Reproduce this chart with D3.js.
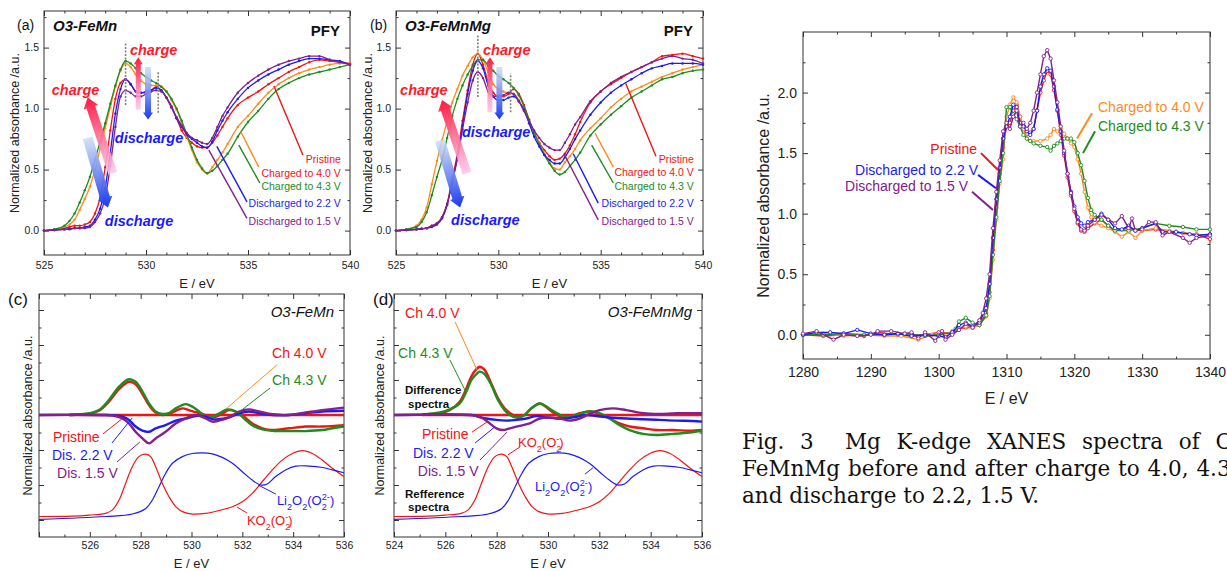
<!DOCTYPE html>
<html>
<head>
<meta charset="utf-8">
<title>O K-edge and Mg K-edge XANES</title>
<script src="https://cdn.jsdelivr.net/npm/d3@7"></script>
<style>
  html, body { margin: 0; padding: 0; background: #fff; overflow: hidden; }
  #fig { position: relative; width: 1227px; height: 571px; overflow: hidden; }
  #fig svg { position: absolute; left: 0; top: 0; }
  .caption { position: absolute; left: 742px; top: 428px; width: 512px;
             font-family: "DejaVu Serif", serif; font-size: 21.5px; line-height: 27px; color: #111; }
  .caption .j { text-align: justify; text-align-last: justify; }
</style>
</head>
<body>
<div id="fig">
  <div class="caption">
    <div class="j">Fig. 3&nbsp; Mg K-edge XANES spectra of O3-</div>
    <div class="j">FeMnMg before and after charge to 4.0, 4.3 V</div>
    <div>and discharge to 2.2, 1.5 V.</div>
  </div>
</div>
<script>
// O K-edge PFY spectra (a,b), difference / reference spectra (c,d)
// and Mg K-edge XANES (right).

const FONT = "Arial, 'Liberation Sans', sans-serif";
const RED = "#f01414", ORANGE = "#ff8a1c", GREEN = "#1e8c1e", BLUE = "#1c1cf0", PURPLE = "#82208e";

// ---------- DATA: (a) / (b) PFY, shared energy grid (eV) ----------
const eAB = [525, 525.5, 526, 526.25, 526.5, 526.75, 527, 527.25, 527.5, 527.75,
  528, 528.25, 528.5, 528.75, 529, 529.25, 529.5, 529.75, 530, 530.25,
  530.5, 530.75, 531, 531.25, 531.5, 531.75, 532, 532.25, 532.5, 532.75,
  533, 533.25, 533.5, 533.75, 534, 534.5, 535, 535.5, 536, 536.5,
  537, 537.5, 538, 538.5, 539, 539.5, 540];

// O3-FeMn
const a_pristine = [0, 0.005, 0.02, 0.03, 0.04, 0.04, 0.05, 0.07, 0.14, 0.27,
  0.52, 0.82, 1.08, 1.21, 1.24, 1.20, 1.14, 1.13, 1.13, 1.15,
  1.18, 1.15, 1.09, 1.02, 0.92, 0.82, 0.76, 0.72, 0.69, 0.68,
  0.68, 0.72, 0.78, 0.85, 0.92, 1.03, 1.09, 1.14, 1.20, 1.25,
  1.30, 1.34, 1.38, 1.40, 1.39, 1.38, 1.37];
const a_ch40 = [0, 0.01, 0.03, 0.05, 0.09, 0.17, 0.26, 0.36, 0.50, 0.67,
  0.84, 1.01, 1.18, 1.31, 1.37, 1.34, 1.28, 1.23, 1.20, 1.19,
  1.19, 1.18, 1.14, 1.07, 0.99, 0.88, 0.77, 0.66, 0.56, 0.50,
  0.47, 0.52, 0.58, 0.64, 0.71, 0.85, 0.94, 1.04, 1.13, 1.20,
  1.25, 1.29, 1.32, 1.34, 1.36, 1.37, 1.37];
const a_ch43 = [0, 0.01, 0.04, 0.08, 0.14, 0.23, 0.33, 0.44, 0.58, 0.73,
  0.88, 1.04, 1.19, 1.32, 1.39, 1.37, 1.33, 1.29, 1.26, 1.23,
  1.21, 1.18, 1.14, 1.08, 1.00, 0.90, 0.79, 0.68, 0.58, 0.51,
  0.47, 0.49, 0.53, 0.58, 0.63, 0.77, 0.89, 0.98, 1.08, 1.16,
  1.21, 1.25, 1.28, 1.30, 1.32, 1.34, 1.36];
const a_dis22 = [0, 0.005, 0.01, 0.015, 0.02, 0.02, 0.03, 0.04, 0.09, 0.18,
  0.35, 0.64, 0.96, 1.16, 1.24, 1.20, 1.14, 1.13, 1.14, 1.15,
  1.17, 1.15, 1.09, 1.01, 0.92, 0.85, 0.79, 0.75, 0.72, 0.69,
  0.68, 0.73, 0.82, 0.90, 0.97, 1.08, 1.17, 1.23, 1.28, 1.32,
  1.36, 1.39, 1.41, 1.41, 1.40, 1.39, 1.36];
const a_dis15 = [0, 0.005, 0.01, 0.01, 0.02, 0.02, 0.02, 0.03, 0.07, 0.14,
  0.27, 0.53, 0.85, 1.10, 1.15, 1.13, 1.10, 1.10, 1.12, 1.14,
  1.15, 1.14, 1.09, 1.01, 0.93, 0.86, 0.80, 0.76, 0.74, 0.72,
  0.71, 0.76, 0.85, 0.94, 1.01, 1.13, 1.21, 1.27, 1.32, 1.36,
  1.39, 1.41, 1.43, 1.43, 1.40, 1.38, 1.36];

// O3-FeMnMg
const b_pristine = [0, 0.005, 0.01, 0.015, 0.02, 0.04, 0.06, 0.11, 0.22, 0.43,
  0.63, 0.90, 1.15, 1.36, 1.45, 1.36, 1.22, 1.13, 1.10, 1.10,
  1.12, 1.16, 1.12, 1.03, 0.91, 0.80, 0.72, 0.66, 0.61, 0.58,
  0.59, 0.63, 0.70, 0.79, 0.89, 1.05, 1.14, 1.20, 1.25, 1.30,
  1.34, 1.38, 1.43, 1.44, 1.45, 1.43, 1.41];
const b_ch40 = [0, 0.01, 0.04, 0.09, 0.19, 0.38, 0.57, 0.74, 0.90, 1.05,
  1.16, 1.27, 1.35, 1.42, 1.45, 1.40, 1.30, 1.20, 1.16, 1.14,
  1.13, 1.12, 1.07, 0.99, 0.90, 0.81, 0.72, 0.63, 0.56, 0.51,
  0.50, 0.56, 0.61, 0.67, 0.74, 0.84, 0.92, 1.01, 1.08, 1.14,
  1.18, 1.22, 1.26, 1.29, 1.32, 1.34, 1.36];
const b_ch43 = [0, 0.01, 0.03, 0.07, 0.15, 0.29, 0.44, 0.58, 0.76, 0.94,
  1.08, 1.19, 1.28, 1.35, 1.40, 1.40, 1.35, 1.31, 1.27, 1.24,
  1.21, 1.17, 1.11, 1.02, 0.91, 0.80, 0.71, 0.62, 0.55, 0.49,
  0.46, 0.48, 0.53, 0.58, 0.64, 0.78, 0.87, 0.95, 1.02, 1.09,
  1.14, 1.19, 1.24, 1.26, 1.29, 1.31, 1.32];
const b_dis22 = [0, 0.005, 0.01, 0.015, 0.02, 0.03, 0.05, 0.10, 0.21, 0.40,
  0.60, 0.86, 1.12, 1.31, 1.39, 1.33, 1.19, 1.10, 1.07, 1.07,
  1.09, 1.10, 1.06, 0.99, 0.88, 0.77, 0.69, 0.62, 0.58, 0.55,
  0.55, 0.60, 0.67, 0.75, 0.82, 0.95, 1.05, 1.13, 1.19, 1.24,
  1.29, 1.33, 1.35, 1.37, 1.37, 1.37, 1.36];
const b_dis15 = [0, 0.005, 0.01, 0.015, 0.02, 0.04, 0.06, 0.11, 0.22, 0.40,
  0.59, 0.83, 1.05, 1.23, 1.30, 1.25, 1.14, 1.10, 1.10, 1.11,
  1.13, 1.12, 1.06, 0.98, 0.90, 0.82, 0.76, 0.71, 0.68, 0.66,
  0.66, 0.72, 0.79, 0.87, 0.93, 1.06, 1.14, 1.21, 1.26, 1.30,
  1.34, 1.38, 1.41, 1.43, 1.41, 1.40, 1.37];

// ---------- DATA: (c) / (d) difference spectra [eV, a.u.] ----------
const c_pristine = [[525.2, 0], [536, 0]];
const c_ch40 = [[525.2, 0], [525.97, 0.03], [526.36, 0.12], [526.75, 0.38], [527.15, 0.74], [527.54, 0.95],
  [527.8, 0.88], [528.07, 0.60], [528.33, 0.28], [528.59, 0.07], [528.85, 0.0], [529.11, 0.03],
  [529.38, 0.12], [529.64, 0.19], [529.9, 0.14], [530.16, 0.08], [530.43, 0.03], [530.69, -0.04],
  [530.95, -0.05], [531.21, 0.04], [531.47, 0.14], [531.74, 0.10], [532.07, -0.05], [532.39, -0.24],
  [532.79, -0.38], [533.18, -0.43], [533.84, -0.38], [534.49, -0.33], [535.15, -0.33], [536, -0.29]];
const c_ch43 = [[525.2, 0], [525.97, 0.05], [526.36, 0.14], [526.75, 0.43], [527.15, 0.81], [527.54, 1.02],
  [527.8, 0.95], [528.07, 0.67], [528.33, 0.33], [528.59, 0.10], [528.85, 0.03], [529.11, 0.05],
  [529.38, 0.19], [529.77, 0.31], [530.03, 0.24], [530.3, 0.10], [530.56, -0.05], [530.82, -0.05],
  [531.15, 0.07], [531.41, 0.16], [531.74, 0.10], [532.07, -0.10], [532.39, -0.29], [532.79, -0.41],
  [533.18, -0.45], [533.84, -0.46], [534.49, -0.46], [535.15, -0.43], [535.54, -0.38], [536, -0.33]];
const c_dis22 = [[524, 0], [526.5, 0], [527.0, -0.01], [527.28, -0.05], [527.54, -0.14], [527.8, -0.33],
  [528.07, -0.45], [528.33, -0.48], [528.59, -0.38], [528.98, -0.29], [529.38, -0.16], [529.77, -0.10],
  [530.16, -0.03], [530.56, -0.05], [530.82, -0.12], [531.08, -0.12], [531.48, -0.07], [531.87, 0.05],
  [532.26, 0.10], [532.66, 0.05], [533.18, 0], [533.84, 0], [534.49, 0.05], [535.15, 0.10], [536, 0.12]];
const c_dis15 = [[524, 0], [526.5, 0], [526.9, -0.02], [527.28, -0.10], [527.54, -0.24], [527.8, -0.48],
  [528.07, -0.67], [528.33, -0.81], [528.59, -0.67], [528.98, -0.48], [529.38, -0.24], [529.77, -0.10],
  [530.16, 0], [530.56, -0.10], [530.82, -0.19], [531.08, -0.16], [531.48, -0.07], [531.87, 0.10],
  [532.26, 0.16], [532.66, 0.10], [533.18, 0.02], [533.84, 0], [534.49, 0.07], [535.15, 0.14], [536, 0.21]];

const d_pristine = [[525.1, 0], [536, 0]];
const d_ch40 = [[525.1, 0], [525.26, 0.02], [525.78, 0.05], [526.17, 0.14], [526.56, 0.38], [526.82, 0.76],
  [527.01, 1.10], [527.21, 1.31], [527.34, 1.38], [527.53, 1.29], [527.79, 0.90], [528.05, 0.48],
  [528.31, 0.19], [528.57, 0.03], [528.83, -0.07], [529.09, 0], [529.35, 0.19], [529.68, 0.33],
  [529.94, 0.22], [530.19, 0.07], [530.58, -0.07], [530.84, -0.05], [531.23, 0.05], [531.62, 0.10],
  [532.01, 0.03], [532.4, -0.10], [532.79, -0.24], [533.18, -0.33], [533.7, -0.38], [534.22, -0.43],
  [534.87, -0.43], [535.52, -0.45], [536, -0.43]];
const d_ch43 = [[525.1, 0], [525.26, 0.02], [525.78, 0.07], [526.17, 0.16], [526.56, 0.33], [526.82, 0.67],
  [527.01, 1.0], [527.21, 1.17], [527.34, 1.24], [527.53, 1.17], [527.79, 0.86], [528.05, 0.43],
  [528.31, 0.14], [528.57, -0.03], [528.83, -0.07], [529.09, 0], [529.35, 0.19], [529.68, 0.33],
  [529.94, 0.24], [530.19, 0.12], [530.58, -0.03], [530.84, -0.05], [531.23, 0.03], [531.62, 0.11],
  [532.01, 0.05], [532.4, -0.10], [532.79, -0.29], [533.18, -0.43], [533.7, -0.54], [534.22, -0.57],
  [534.87, -0.54], [535.52, -0.50], [536, -0.45]];
const d_dis22 = [[524, 0], [527.0, 0], [527.21, -0.03], [527.6, -0.10], [527.99, -0.14], [528.38, -0.16],
  [528.77, -0.14], [529.16, -0.10], [529.55, -0.03], [529.94, -0.07], [530.32, -0.10], [530.71, -0.10],
  [531.1, -0.05], [531.49, 0], [531.88, -0.03], [532.4, -0.07], [533.05, -0.10], [533.7, -0.12],
  [534.35, -0.14], [535.0, -0.16], [535.65, -0.17], [536, -0.19]];
const d_dis15 = [[524, 0], [527.0, 0], [527.21, -0.03], [527.47, -0.10], [527.73, -0.24], [527.99, -0.38],
  [528.25, -0.43], [528.51, -0.38], [528.9, -0.31], [529.29, -0.24], [529.68, -0.10], [530.06, -0.07],
  [530.45, -0.10], [530.84, -0.16], [531.23, -0.10], [531.62, 0.03], [532.01, 0.14], [532.53, 0.19],
  [533.05, 0.14], [533.7, 0.05], [534.35, 0.03], [535.0, 0.05], [536, 0.05]];

// reference spectra (same in c and d)
const ref_KO2 = [[524, -2.90], [525.31, -2.89], [525.97, -2.86], [526.62, -2.81], [526.89, -2.71], [527.15, -2.43],
  [527.41, -1.95], [527.67, -1.48], [527.93, -1.19], [528.2, -1.12], [528.39, -1.19], [528.59, -1.48],
  [528.85, -1.95], [529.11, -2.33], [529.38, -2.62], [529.64, -2.76], [530.03, -2.83], [530.56, -2.81],
  [531.08, -2.73], [531.61, -2.62], [532.0, -2.48], [532.39, -2.24], [532.79, -1.90], [533.18, -1.57],
  [533.57, -1.29], [533.97, -1.10], [534.36, -1.02], [534.75, -1.10], [535.15, -1.29], [535.54, -1.52], [536, -1.76]];
const ref_Li2O2 = [[524, -2.98], [526.62, -2.90], [527.67, -2.83], [528.2, -2.67], [528.46, -2.43], [528.72, -2.05],
  [528.98, -1.67], [529.25, -1.38], [529.64, -1.19], [530.03, -1.10], [530.43, -1.08], [530.82, -1.11],
  [531.21, -1.21], [531.61, -1.38], [532.0, -1.62], [532.39, -1.86], [532.72, -2.00], [532.98, -1.97],
  [533.31, -1.76], [533.7, -1.57], [534.1, -1.46], [534.62, -1.46], [535.15, -1.50], [535.54, -1.57], [536, -1.65]];

// ---------- DATA: Mg K-edge [eV, a.u.] ----------
const mg_pristine = [[1280, 0], [1283, -0.01], [1286, 0], [1289, -0.01], [1291, 0.02], [1294, 0], [1296, -0.01],
  [1298, 0], [1300, 0.02], [1302, 0.01], [1303, 0.05], [1304, 0.06], [1305, 0.06], [1306, 0.08], [1307, 0.18],
  [1307.5, 0.35], [1308, 0.70], [1308.5, 1.05], [1309, 1.33], [1309.5, 1.55], [1310, 1.72], [1310.5, 1.75],
  [1311, 1.85], [1311.5, 1.90], [1312, 1.80], [1312.5, 1.70], [1313, 1.66], [1313.5, 1.67], [1314, 1.70],
  [1314.5, 1.85], [1315, 2.00], [1315.5, 2.10], [1316, 2.18], [1316.5, 2.15], [1317, 2.02], [1317.5, 1.85],
  [1318, 1.65], [1318.5, 1.48], [1319, 1.30], [1319.5, 1.15], [1320, 1.02], [1320.5, 0.92], [1321, 0.86],
  [1321.5, 0.85], [1322, 0.88], [1323, 0.92], [1324, 0.95], [1325, 0.90], [1326, 0.86], [1328, 0.88],
  [1330, 0.86], [1332, 0.87], [1334, 0.85], [1336, 0.84], [1338, 0.83], [1340, 0.79]];
const mg_ch40 = [[1280, 0], [1283, 0.01], [1286, -0.01], [1289, 0], [1292, -0.01], [1294.5, -0.01], [1297, -0.04],
  [1299, 0], [1301, 0], [1302, 0.03], [1303, 0.05], [1304, 0.07], [1305, 0.06], [1306, 0.08], [1307, 0.15],
  [1307.5, 0.30], [1308, 0.62], [1308.5, 0.95], [1309, 1.25], [1309.5, 1.45], [1310, 1.80], [1310.5, 1.90],
  [1311, 1.96], [1311.5, 1.92], [1312, 1.80], [1312.5, 1.70], [1313, 1.62], [1313.5, 1.60], [1314, 1.60],
  [1315, 1.60], [1316, 1.62], [1316.5, 1.65], [1317, 1.70], [1317.5, 1.68], [1318, 1.70], [1318.5, 1.66],
  [1319, 1.62], [1319.5, 1.58], [1320, 1.55], [1320.5, 1.45], [1321, 1.33], [1321.5, 1.18], [1322, 1.05],
  [1322.5, 0.97], [1323, 0.93], [1324, 0.90], [1325, 0.88], [1326, 0.85], [1327, 0.81], [1328, 0.85],
  [1329, 0.80], [1330, 0.86], [1332, 0.88], [1334, 0.86], [1336, 0.84], [1338, 0.83], [1340, 0.82]];
const mg_ch43 = [[1280, 0], [1283, 0], [1286, 0.01], [1289, 0], [1292, 0], [1295, 0.01], [1298, -0.01],
  [1300, 0], [1302, 0.02], [1302.5, 0.05], [1303, 0.11], [1304, 0.14], [1305, 0.10], [1306, 0.08], [1307, 0.16],
  [1307.5, 0.32], [1308, 0.66], [1308.5, 0.97], [1309, 1.27], [1309.5, 1.50], [1310, 1.88], [1310.5, 1.88],
  [1311, 1.82], [1311.5, 1.78], [1312, 1.72], [1312.5, 1.65], [1313, 1.62], [1313.5, 1.60], [1314, 1.58],
  [1315, 1.56], [1316, 1.55], [1316.5, 1.52], [1317, 1.56], [1317.5, 1.58], [1318, 1.60], [1318.5, 1.62],
  [1319, 1.62], [1319.5, 1.62], [1320, 1.59], [1320.5, 1.50], [1321, 1.40], [1321.5, 1.27], [1322, 1.13],
  [1322.5, 1.03], [1323, 0.99], [1324, 0.95], [1325, 0.90], [1326, 0.86], [1328, 0.86], [1330, 0.88],
  [1332, 0.92], [1334, 0.90], [1336, 0.89], [1338, 0.87], [1340, 0.87]];
const mg_dis22 = [[1280, 0], [1282, 0.02], [1284, 0.02], [1286, 0.01], [1288, 0.04], [1290, 0.01], [1292, 0],
  [1294, 0.01], [1296, -0.01], [1298, 0], [1300, -0.01], [1301, -0.02], [1302, 0.02], [1303, 0.08], [1304, 0.10],
  [1305, 0.07], [1306, 0.10], [1307, 0.22], [1307.5, 0.42], [1308, 0.80], [1308.5, 1.12], [1309, 1.38],
  [1309.5, 1.62], [1310, 1.72], [1310.5, 1.80], [1311, 1.90], [1311.5, 1.88], [1312, 1.75], [1312.5, 1.72],
  [1313, 1.68], [1313.5, 1.65], [1314, 1.70], [1314.5, 1.85], [1315, 2.05], [1315.5, 2.15], [1316, 2.20],
  [1316.5, 2.18], [1317, 2.05], [1317.5, 1.86], [1318, 1.68], [1318.5, 1.50], [1319, 1.33], [1319.5, 1.18],
  [1320, 1.06], [1320.5, 0.97], [1321, 0.92], [1321.5, 0.90], [1322, 0.93], [1323, 0.95], [1324, 1.00],
  [1325, 0.95], [1326, 0.88], [1327, 0.87], [1328, 0.90], [1329, 0.86], [1330, 0.88], [1332, 0.92],
  [1333, 0.85], [1335, 0.85], [1337, 0.83], [1338, 0.82], [1340, 0.83]];
const mg_dis15 = [[1280, 0.01], [1282, 0.03], [1284.5, -0.04], [1286, 0], [1288, -0.01], [1290, 0], [1291, 0.03],
  [1293, 0.03], [1295, 0.01], [1296, 0.02], [1297, -0.03], [1298, 0.02], [1299.5, -0.05], [1300.5, 0.03],
  [1301, -0.04], [1302, 0], [1303, 0.04], [1304, 0.09], [1305, 0.06], [1306, 0.12], [1306.5, 0.18], [1307, 0.30],
  [1307.5, 0.50], [1308, 0.88], [1308.5, 1.18], [1309, 1.44], [1309.5, 1.68], [1310, 1.75], [1310.5, 1.70],
  [1311, 1.80], [1311.5, 1.85], [1312, 1.72], [1312.5, 1.75], [1313, 1.70], [1313.5, 1.75], [1314, 1.85],
  [1314.5, 2.00], [1315, 2.15], [1315.5, 2.30], [1316, 2.35], [1316.5, 2.28], [1317, 2.10], [1317.5, 1.92],
  [1318, 1.72], [1318.5, 1.52], [1319, 1.33], [1319.5, 1.17], [1320, 1.04], [1320.5, 0.93], [1321, 0.87],
  [1321.5, 0.86], [1322, 0.90], [1323, 0.95], [1324, 0.99], [1325, 0.95], [1326, 0.92], [1327, 0.98],
  [1328, 0.88], [1328.5, 0.96], [1329, 0.86], [1330, 0.87], [1331, 0.93], [1332, 0.93], [1333, 0.82],
  [1334, 0.85], [1336, 0.80], [1337, 0.76], [1338, 0.80], [1340, 0.82]];

// ---------- TICKS ----------
const abXMajor = [525, 530, 535, 540];
const abXMinor = [526, 527, 528, 529, 531, 532, 533, 534, 536, 537, 538, 539];
const abYMajor = [0, 0.5, 1.0, 1.5];
const abYMinor = [0.25, 0.75, 1.25, 1.75];
const cdXMajor = [524, 526, 528, 530, 532, 534, 536];
const cdXMinor = [525, 527, 529, 531, 533, 535];
const cdYMajor = [-3, -2, -1, 0, 1, 2, 3];
const cdYMinor = [-2.5, -1.5, -0.5, 0.5, 1.5, 2.5];
const mgXMajor = [1280, 1290, 1300, 1310, 1320, 1330, 1340];
const mgXMinor = [1285, 1295, 1305, 1315, 1325, 1335];
const mgYMajor = [0, 0.5, 1.0, 1.5, 2.0];
const mgYMinor = [0.25, 0.75, 1.25, 1.75, 2.25];

const pfyNames = ["Pristine", "Charged to 4.0 V", "Charged to 4.3 V", "Discharged to 2.2 V", "Discharged to 1.5 V"];
const lineColors = [RED, ORANGE, GREEN, BLUE, PURPLE];
const nameColors = [RED, RED, GREEN, BLUE, PURPLE];

// ---------- CANVAS ----------
const svg = d3.select("#fig").append("svg").attr("width", 1227).attr("height", 571);
const defs = svg.append("defs");

function panel(box, xDom, yDom) {
  const g = svg.append("g").attr("transform", `translate(${box.left},${box.top})`);
  const x = d3.scaleLinear().domain(xDom).range([0, box.width]);
  const y = d3.scaleLinear().domain(yDom).range([box.height, 0]);
  return { g, x, y, w: box.width, h: box.height };
}

function put(p, axis, tx, ty, fs) {
  const a = p.g.append("g").attr("transform", `translate(${tx},${ty})`).call(axis);
  a.select(".domain").remove();
  a.attr("font-size", fs).attr("font-family", FONT).attr("color", "#333");
  a.selectAll("text").attr("fill", "#222");
  return a;
}

// ticks on all four sides, pointing inward
function axes(p, o) {
  const { x, y, w, h } = p;
  put(p, d3.axisBottom(x).tickValues(o.xMinor).tickSize(-2.5).tickFormat(""), 0, h);
  put(p, d3.axisTop(x).tickValues(o.xMinor).tickSize(-2.5).tickFormat(""), 0, 0);
  put(p, d3.axisLeft(y).tickValues(o.yMinor).tickSize(-2.5).tickFormat(""), 0, 0);
  put(p, d3.axisRight(y).tickValues(o.yMinor).tickSize(-2.5).tickFormat(""), w, 0);
  put(p, d3.axisBottom(x).tickValues(o.xMajor).tickSize(-5).tickPadding(o.padX).tickFormat(o.xFmt), 0, h, o.fs);
  put(p, d3.axisTop(x).tickValues(o.xMajor).tickSize(-5).tickFormat(""), 0, 0);
  put(p, d3.axisLeft(y).tickValues(o.yMajor).tickSize(-5).tickPadding(o.padY).tickFormat(o.yFmt), 0, 0, o.fs);
  put(p, d3.axisRight(y).tickValues(o.yMajor).tickSize(-5).tickFormat(""), w, 0);
  p.g.append("rect").attr("width", w).attr("height", h)
    .attr("fill", "none").attr("stroke", "#333").attr("stroke-width", 1);

  p.g.append("text")
    .attr("x", w / 2).attr("y", h + o.xTitleDy)
    .attr("text-anchor", "middle").attr("dy", "0.35em")
    .style("font-family", FONT).style("font-size", o.titleFs + "px").attr("fill", "#222")
    .text("E / eV");
  p.g.append("text")
    .attr("transform", `translate(${o.yTitleDx},${h / 2}) rotate(-90)`)
    .attr("text-anchor", "middle").attr("dy", "0.35em")
    .style("font-family", FONT).style("font-size", o.yTitleFs + "px").attr("fill", "#222")
    .text("Normalized absorbance /a.u.");
}

function text(p, at, str, o) {
  return p.g.append("text")
    .attr("x", p.x(at[0])).attr("y", p.y(at[1]))
    .attr("dy", o.dy === undefined ? "0.35em" : o.dy)
    .attr("text-anchor", o.anchor || "start")
    .style("font-family", FONT).style("font-size", o.fs + "px")
    .style("font-weight", o.weight || "normal").style("font-style", o.style || "normal")
    .attr("fill", o.color || "#222")
    .text(str);
}

function leader(p, a, b, color, width) {
  p.g.append("line")
    .attr("x1", p.x(a[0])).attr("y1", p.y(a[1]))
    .attr("x2", p.x(b[0])).attr("y2", p.y(b[1]))
    .attr("stroke", color).attr("stroke-width", width);
}

// plain label at pixel offset inside a panel (titles, panel letters)
function tag(p, px, py, str, o) {
  return p.g.append("text").attr("x", px).attr("y", py)
    .attr("text-anchor", o.anchor || "start")
    .style("font-family", FONT).style("font-size", o.fs + "px")
    .style("font-weight", o.weight || "normal").style("font-style", o.style || "normal")
    .attr("fill", o.color || "#111").text(str);
}

// chemical formula with sub/superscripts
function chem(p, at, parts, color, fs) {
  const t = p.g.append("text")
    .attr("x", p.x(at[0])).attr("y", p.y(at[1])).attr("dy", "0.3em")
    .style("font-family", FONT).style("font-size", fs + "px").attr("fill", color);
  parts.forEach(([s, kind]) => {
    const ts = t.append("tspan").text(s);
    if (kind === "sub") ts.attr("baseline-shift", "sub").style("font-size", "70%");
    if (kind === "sup") ts.attr("baseline-shift", "super").style("font-size", "70%").attr("dx", "-0.55em");
  });
}

// gradient filled block arrow, from tail to head in data coordinates
let gradCount = 0;
const tones = { red: ["#ffc6ec", "#ff1a40"], blue: ["#cddff3", "#1838f0"] };
function gradArrow(p, a) {
  const x1 = p.x(a.from[0]), y1 = p.y(a.from[1]), x2 = p.x(a.to[0]), y2 = p.y(a.to[1]);
  const len = Math.hypot(x2 - x1, y2 - y1);
  const ux = (x2 - x1) / len, uy = (y2 - y1) / len, nx = -uy, ny = ux;
  const bx = x2 - ux * a.hl, by = y2 - uy * a.hl;
  const s = a.shaft / 2, hd = a.head / 2;
  const pts = [[x1 + nx * s, y1 + ny * s], [bx + nx * s, by + ny * s], [bx + nx * hd, by + ny * hd], [x2, y2],
    [bx - nx * hd, by - ny * hd], [bx - nx * s, by - ny * s], [x1 - nx * s, y1 - ny * s]];
  const id = "grad" + (gradCount++);
  const grad = defs.append("linearGradient").attr("id", id).attr("gradientUnits", "userSpaceOnUse")
    .attr("x1", x1).attr("y1", y1).attr("x2", x2).attr("y2", y2);
  grad.append("stop").attr("offset", 0).attr("stop-color", tones[a.tone][0]).attr("stop-opacity", 0.85);
  grad.append("stop").attr("offset", 1).attr("stop-color", tones[a.tone][1]);
  p.g.append("polygon").attr("points", pts.map(d => d.join(",")).join(" ")).attr("fill", `url(#${id})`);
}

// ---------- (a) / (b) PFY PANELS ----------
function drawPFY(p, series, ann) {
  axes(p, { xMajor: abXMajor, xMinor: abXMinor, yMajor: abYMajor, yMinor: abYMinor,
    xFmt: d3.format("d"), yFmt: d3.format(".1f"), padX: 7, padY: 5, fs: 10.5,
    xTitleDy: 28, titleFs: 13, yTitleDx: ann.yTitleDx, yTitleFs: 12.5 });

  const line = d3.line().x((d, i) => p.x(eAB[i])).y(d => p.y(d)).curve(d3.curveMonotoneX);
  series.forEach((v, k) => {
    p.g.append("path").datum(v)
      .attr("fill", "none").attr("stroke", lineColors[k]).attr("stroke-width", 1.3)
      .attr("d", line);
    p.g.selectAll(null).data(v).join("circle")
      .attr("cx", (d, i) => p.x(eAB[i])).attr("cy", d => p.y(d))
      .attr("r", 1.2).attr("fill", lineColors[k]);
  });

  ann.dashes.forEach(d => {
    p.g.append("line")
      .attr("x1", p.x(d.x)).attr("x2", p.x(d.x)).attr("y1", p.y(d.lo)).attr("y2", p.y(d.hi))
      .attr("stroke", "#808080").attr("stroke-width", 1.6).attr("stroke-dasharray", "2,1.5");
  });
  ann.arrows.forEach(a => gradArrow(p, a));
  ann.words.forEach(w => text(p, w.at, w.t, { fs: 14.5, weight: "bold", style: "italic",
    color: w.t === "charge" ? "#ff1a2a" : "#1a1aff", dy: 0 }));

  ann.leaders.forEach((l, k) => leader(p, l[0], l[1], lineColors[k], 1.4));
  pfyNames.forEach((n, k) => text(p, [539.55, ann.legendY[k]], n, { fs: 10.5, anchor: "end", color: nameColors[k] }));

  tag(p, ann.letterDx, 19, ann.letter, { fs: 14 });
  tag(p, 9, 20, ann.title, { fs: 15, weight: "bold", style: "italic" });
  tag(p, p.w - 10, 25, "PFY", { fs: 15, weight: "bold", anchor: "end" });
}

const pA = panel({ left: 44, top: 11, width: 306, height: 244 }, [525, 540], [-0.2, 1.8]);
drawPFY(pA, [a_pristine, a_ch40, a_ch43, a_dis22, a_dis15], {
  letter: "(a)", letterDx: -27, title: "O3-FeMn", yTitleDx: -29,
  dashes: [{ x: 529, lo: 1.03, hi: 1.54 }, { x: 530.6, lo: 0.965, hi: 1.30 }],
  arrows: [
    { from: [529.62, 0.99], to: [529.62, 1.42], tone: "red", shaft: 5, head: 9, hl: 7 },
    { from: [530.1, 1.34], to: [530.1, 0.91], tone: "blue", shaft: 6, head: 10, hl: 7 },
    { from: [528.37, 0.47], to: [527.14, 1.09], tone: "red", shaft: 9, head: 15, hl: 10 },
    { from: [527.14, 0.76], to: [528.13, 0.19], tone: "blue", shaft: 10, head: 15, hl: 10 }],
  words: [
    { t: "charge", at: [529.21, 1.44] }, { t: "charge", at: [525.38, 1.115] },
    { t: "discharge", at: [528.47, 0.72] }, { t: "discharge", at: [527.98, 0.04] }],
  leaders: [
    [[536.27, 1.186], [537.69, 0.62]], [[534.65, 0.81], [535.53, 0.52]], [[534.55, 0.70], [535.58, 0.39]],
    [[533.47, 0.69], [534.95, 0.235]], [[533.08, 0.66], [534.95, 0.10]]],
  legendY: [0.586, 0.47, 0.36, 0.22, 0.08]
});

const pB = panel({ left: 396, top: 11, width: 307, height: 244 }, [525, 540], [-0.2, 1.8]);
drawPFY(pB, [b_pristine, b_ch40, b_ch43, b_dis22, b_dis15], {
  letter: "(b)", letterDx: -26, title: "O3-FeMnMg", yTitleDx: -28,
  dashes: [{ x: 529, lo: 1.095, hi: 1.60 }, { x: 530.6, lo: 0.97, hi: 1.29 }],
  arrows: [
    { from: [529.59, 0.97], to: [529.59, 1.42], tone: "red", shaft: 5, head: 9, hl: 7 },
    { from: [530.05, 1.34], to: [530.05, 0.91], tone: "blue", shaft: 6, head: 10, hl: 7 },
    { from: [528.47, 0.47], to: [527.25, 1.07], tone: "red", shaft: 9, head: 15, hl: 10 },
    { from: [527.15, 0.74], to: [528.13, 0.19], tone: "blue", shaft: 10, head: 15, hl: 10 }],
  words: [
    { t: "charge", at: [529.25, 1.44] }, { t: "charge", at: [525.2, 1.11] },
    { t: "discharge", at: [528.22, 0.77] }, { t: "discharge", at: [527.69, 0.047] }],
  leaders: [
    [[536.22, 1.208], [537.70, 0.61]], [[534.72, 0.80], [535.62, 0.52]], [[534.56, 0.70], [535.62, 0.39]],
    [[533.66, 0.63], [534.88, 0.225]], [[533.22, 0.626], [534.88, 0.088]]],
  legendY: [0.586, 0.48, 0.366, 0.227, 0.08]
});

// ---------- (c) / (d) DIFFERENCE PANELS ----------
const O2m = [["KO"], ["2", "sub"], ["(O"], ["2", "sub"], ["-", "sup"], [")"]];
const O22m = [["Li"], ["2", "sub"], ["O"], ["2", "sub"], ["(O"], ["2", "sub"], ["2-", "sup"], [")"]];

function drawDiff(p, diff, ann) {
  axes(p, { xMajor: cdXMajor, xMinor: cdXMinor, yMajor: cdYMajor, yMinor: cdYMinor,
    xFmt: ann.xFmt, yFmt: () => "", padX: 5, padY: 3, fs: 10.5,
    xTitleDy: 26, titleFs: 13, yTitleDx: ann.yTitleDx, yTitleFs: 12.5 });

  const line = d3.line().x(d => p.x(d[0])).y(d => p.y(d[1])).curve(d3.curveCatmullRom);
  [[ref_KO2, RED], [ref_Li2O2, BLUE]].forEach(([v, c]) => {
    p.g.append("path").datum(v).attr("fill", "none").attr("stroke", c).attr("stroke-width", 1.2).attr("d", line);
  });
  const diffColors = [RED, RED, GREEN, BLUE, PURPLE];
  diff.forEach((v, k) => {
    p.g.append("path").datum(v).attr("fill", "none")
      .attr("stroke", diffColors[k]).attr("stroke-width", 2.4).attr("d", line);
  });

  ann.leaders.forEach(l => leader(p, l.a, l.b, l.c, 1));
  ann.labels.forEach(l => text(p, l.at, l.t, { fs: 14, color: l.c }));
  ann.bold.forEach(l => text(p, l.at, l.t, { fs: 11.5, weight: "bold", color: "#111" }));
  chem(p, ann.ko2, O2m, RED, 13);
  chem(p, ann.li2o2, O22m, BLUE, 13);

  tag(p, ann.letterDx, 11, ann.letter, { fs: 17 });
  tag(p, p.w - 10, 23, ann.title, { fs: 15, style: "italic", anchor: "end" });
}

const pC = panel({ left: 39, top: 294, width: 305, height: 243 }, [524, 536], [-3.486, 3.457]);
drawDiff(pC, [c_pristine, c_ch40, c_ch43, c_dis22, c_dis15], {
  letter: "(c)", letterDx: -31, title: "O3-FeMn", yTitleDx: -11,
  xFmt: d => d === 524 ? "" : d,
  leaders: [
    { a: [531.40, 0.20], b: [533.36, 1.43], c: ORANGE }, { a: [531.83, 0.06], b: [533.09, 0.77], c: GREEN },
    { a: [526.52, -0.54], b: [527.30, -0.09], c: RED }, { a: [526.87, -0.80], b: [527.66, -0.09], c: BLUE },
    { a: [527.07, -1.34], b: [527.97, -0.77], c: PURPLE },
    { a: [532.62, -2.0], b: [533.32, -2.26], c: BLUE }, { a: [531.79, -2.63], b: [532.18, -2.80], c: RED }],
  labels: [
    { t: "Ch 4.0 V", at: [533.17, 1.77], c: RED }, { t: "Ch 4.3 V", at: [533.17, 1.0], c: GREEN },
    { t: "Pristine", at: [524.55, -0.63], c: RED }, { t: "Dis. 2.2 V", at: [524.51, -1.14], c: BLUE },
    { t: "Dis. 1.5 V", at: [524.71, -1.66], c: PURPLE }],
  bold: [],
  ko2: [532.18, -3.02], li2o2: [533.36, -2.47]
});

const pD = panel({ left: 394, top: 294, width: 308, height: 243 }, [524, 536], [-3.486, 3.457]);
drawDiff(pD, [d_pristine, d_ch40, d_ch43, d_dis22, d_dis15], {
  letter: "(d)", letterDx: -21, title: "O3-FeMnMg", yTitleDx: -14,
  xFmt: d3.format("d"),
  leaders: [
    { a: [526.38, 2.66], b: [527.23, 1.29], c: ORANGE }, { a: [526.18, 1.57], b: [526.80, 0.66], c: GREEN },
    { a: [527.04, -0.49], b: [527.62, -0.2], c: RED }, { a: [527.16, -0.8], b: [527.93, -0.34], c: BLUE },
    { a: [527.35, -1.29], b: [528.40, -0.49], c: PURPLE },
    { a: [528.44, -1.14], b: [528.91, -0.91], c: RED }, { a: [531.44, -1.69], b: [531.75, -1.51], c: BLUE }],
  labels: [
    { t: "Ch 4.0 V", at: [524.43, 2.91], c: RED }, { t: "Ch 4.3 V", at: [524.16, 1.77], c: GREEN },
    { t: "Pristine", at: [525.09, -0.54], c: RED }, { t: "Dis. 2.2 V", at: [524.74, -1.09], c: BLUE },
    { t: "Dis. 1.5 V", at: [524.93, -1.6], c: PURPLE }],
  bold: [
    { t: "Difference", at: [524.43, 0.71] }, { t: "spectra", at: [524.55, 0.31] },
    { t: "Refference", at: [524.43, -2.26] }, { t: "spectra", at: [524.55, -2.63] }],
  ko2: [528.83, -0.8], li2o2: [529.49, -2.06]
});

// ---------- Mg K-edge PANEL ----------
const pR = panel({ left: 803, top: 32, width: 407, height: 327 }, [1280, 1340], [-0.2, 2.5]);
axes(pR, { xMajor: mgXMajor, xMinor: mgXMinor, yMajor: mgYMajor, yMinor: mgYMinor,
  xFmt: d3.format("d"), yFmt: d3.format(".1f"), padX: 8, padY: 6, fs: 14,
  xTitleDy: 39, titleFs: 16, yTitleDx: -40, yTitleFs: 16 });

const mgSeries = [[mg_pristine, RED], [mg_ch40, ORANGE], [mg_ch43, GREEN], [mg_dis22, BLUE], [mg_dis15, PURPLE]];
const mgLine = d3.line().x(d => pR.x(d[0])).y(d => pR.y(d[1]));
mgSeries.forEach(([v, c]) => {
  pR.g.append("path").datum(v).attr("fill", "none").attr("stroke", c).attr("stroke-width", 1.4).attr("d", mgLine);
  pR.g.selectAll(null).data(v).join("circle")
    .attr("cx", d => pR.x(d[0])).attr("cy", d => pR.y(d[1])).attr("r", 1.7)
    .attr("fill", "#fff").attr("stroke", c).attr("stroke-width", 0.9);
});

const mgLeaders = [
  { a: [1320.40, 1.62], b: [1322.61, 1.83], c: ORANGE }, { a: [1321.28, 1.50], b: [1323.05, 1.68], c: GREEN },
  { a: [1306.24, 1.50], b: [1308.75, 1.36], c: RED }, { a: [1305.8, 1.32], b: [1308.45, 1.21], c: BLUE },
  { a: [1304.92, 1.18], b: [1308.01, 1.03], c: PURPLE }];
mgLeaders.forEach(l => leader(pR, l.a, l.b, l.c, 2));
text(pR, [1323.49, 1.88], "Charged to 4.0 V", { fs: 14, color: ORANGE });
text(pR, [1323.49, 1.726], "Charged to 4.3 V", { fs: 14, color: GREEN });
text(pR, [1305.65, 1.53], "Pristine", { fs: 14, color: RED, anchor: "end" });
text(pR, [1305.8, 1.356], "Discharged to 2.2 V", { fs: 14, color: BLUE, anchor: "end" });
text(pR, [1304.33, 1.224], "Discharged to 1.5 V", { fs: 14, color: PURPLE, anchor: "end" });
</script>
</body>
</html>
